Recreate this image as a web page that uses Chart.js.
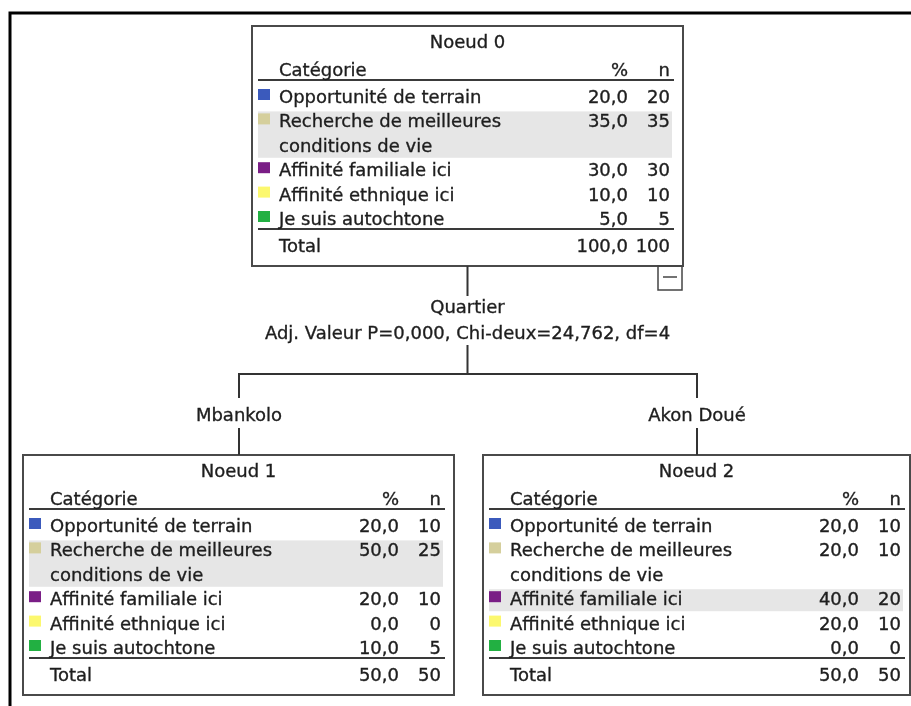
<!DOCTYPE html>
<html>
<head>
<meta charset="utf-8">
<script src="https://cdn.jsdelivr.net/npm/chart.js@4/dist/chart.umd.min.js"></script>
<style>
  html, body { margin: 0; padding: 0; background: #fff; }
  #wrap { width: 911px; height: 706px; }
</style>
</head>
<body>
<div id="wrap"><canvas id="tree"></canvas></div>
<script>
const categories = [
  ["Opportunité de terrain"],
  ["Recherche de meilleures", "conditions de vie"],
  ["Affinité familiale ici"],
  ["Affinité ethnique ici"],
  ["Je suis autochtone"]
];
const catColors = ["#3b5abc", "#d5cf9c", "#7a1e86", "#fcf86e", "#22b042"];
const nodeTitles = ["Noeud 0", "Noeud 1", "Noeud 2"];
const node0Pct = [20.0, 35.0, 30.0, 10.0, 5.0];
const node0N   = [20, 35, 30, 10, 5];
const node1Pct = [20.0, 50.0, 20.0, 0.0, 10.0];
const node1N   = [10, 25, 10, 0, 5];
const node2Pct = [20.0, 20.0, 40.0, 20.0, 0.0];
const node2N   = [10, 10, 20, 10, 0];
const splitVariable = "Quartier";
const splitStats = "Adj. Valeur P=0,000, Chi-deux=24,762, df=4";
const branchLabels = ["Mbankolo", "Akon Doué"];

// layout (in scale units)
const boxes = [
  { l: 252, t: 26,  r: 683, b: 266 },
  { l: 23,  t: 455, r: 454, b: 695 },
  { l: 483, t: 455, r: 910, b: 695 }
];
const ROW = 24.4;
const FONT = '18px "DejaVu Sans"';
const INK = "#1e1e1e";

const fmt = v => v.toFixed(1).replace(".", ",");
const rootTotal = node0N.reduce((a, b) => a + b, 0);

// text a touch heavier, like the blurred SPSS export
function text(ctx, s, x, y) {
  ctx.fillText(s, x, y);
  ctx.strokeText(s, x, y);
}

const treePlugin = {
  id: "tree",
  afterDraw(chart) {
    const ctx = chart.ctx;
    const X = v => chart.scales.x.getPixelForValue(v);
    const Y = v => chart.scales.y.getPixelForValue(v);
    ctx.save();

    // outer frame (top + left)
    ctx.strokeStyle = "#000"; ctx.lineWidth = 3;
    ctx.beginPath();
    ctx.moveTo(X(10), Y(706)); ctx.lineTo(X(10), Y(13)); ctx.lineTo(X(911), Y(13));
    ctx.stroke();

    const pcts = [node0Pct, node1Pct, node2Pct];
    const ns = [node0N, node1N, node2N];
    boxes.forEach((bx, i) => drawNode(ctx, X, Y, bx, nodeTitles[i], pcts[i], ns[i]));

    // collapse toggle under root
    ctx.strokeStyle = "#444"; ctx.lineWidth = 1.5;
    ctx.strokeRect(X(658), Y(266), X(682) - X(658), Y(290) - Y(266));
    ctx.beginPath(); ctx.moveTo(X(663), Y(277)); ctx.lineTo(X(677), Y(277)); ctx.stroke();

    // connectors
    const cx = (boxes[0].l + boxes[0].r) / 2;
    const kids = [(boxes[1].l + boxes[1].r) / 2 + 0.5, (boxes[2].l + boxes[2].r) / 2 + 0.5];
    ctx.strokeStyle = "#333"; ctx.lineWidth = 2;
    ctx.beginPath();
    ctx.moveTo(X(cx), Y(266)); ctx.lineTo(X(cx), Y(296));
    ctx.moveTo(X(cx), Y(345)); ctx.lineTo(X(cx), Y(374));
    ctx.moveTo(X(kids[0]), Y(398)); ctx.lineTo(X(kids[0]), Y(374));
    ctx.lineTo(X(kids[1]), Y(374)); ctx.lineTo(X(kids[1]), Y(398));
    ctx.moveTo(X(kids[0]), Y(428)); ctx.lineTo(X(kids[0]), Y(455));
    ctx.moveTo(X(kids[1]), Y(428)); ctx.lineTo(X(kids[1]), Y(455));
    ctx.stroke();

    ctx.fillStyle = INK; ctx.strokeStyle = INK; ctx.lineWidth = 0.35; ctx.font = FONT;
    ctx.textAlign = "center"; ctx.textBaseline = "alphabetic";
    text(ctx, splitVariable, X(cx), Y(313));
    text(ctx, splitStats, X(cx), Y(339));
    text(ctx, branchLabels[0], X(kids[0]), Y(421));
    text(ctx, branchLabels[1], X(kids[1]), Y(421));
    ctx.restore();
  }
};

function drawNode(ctx, X, Y, bx, title, pct, n) {
  const l = bx.l, t = bx.t;
  ctx.fillStyle = "#fff";
  ctx.fillRect(X(l), Y(t), X(bx.r) - X(l), Y(bx.b) - Y(t));
  ctx.strokeStyle = "#4a4a4a"; ctx.lineWidth = 2;
  ctx.strokeRect(X(l), Y(t), X(bx.r) - X(l), Y(bx.b) - Y(t));

  ctx.strokeStyle = "#3a3a3a"; ctx.lineWidth = 2;
  ctx.beginPath(); ctx.moveTo(X(l + 6), Y(t + 54)); ctx.lineTo(X(l + 422), Y(t + 54)); ctx.stroke();

  const top = pct.indexOf(Math.max(...pct));
  let y = t + 77;
  categories.forEach((lines, k) => {
    if (k === top) {
      ctx.fillStyle = "#e6e6e6";
      ctx.fillRect(X(l + 6), Y(y - 16), X(l + 420) - X(l + 6), Y(y - 18.4 + lines.length * ROW) - Y(y - 16));
    }
    ctx.fillStyle = catColors[k];
    ctx.fillRect(X(l + 6), Y(y - 14), X(l + 18) - X(l + 6), Y(y - 3) - Y(y - 14));
    y += lines.length * ROW;
  });

  ctx.strokeStyle = "#3a3a3a"; ctx.lineWidth = 2;
  ctx.beginPath(); ctx.moveTo(X(l + 6), Y(t + 203)); ctx.lineTo(X(l + 422), Y(t + 203)); ctx.stroke();

  // texts
  ctx.font = FONT; ctx.fillStyle = INK; ctx.strokeStyle = INK; ctx.lineWidth = 0.35;
  ctx.textBaseline = "alphabetic";
  ctx.textAlign = "center";
  text(ctx, title, X((l + bx.r) / 2), Y(t + 22));
  ctx.textAlign = "left";
  text(ctx, "Catégorie", X(l + 27), Y(t + 50));
  ctx.textAlign = "right";
  text(ctx, "%", X(l + 376), Y(t + 50));
  text(ctx, "n", X(l + 418), Y(t + 50));

  y = t + 77;
  categories.forEach((lines, k) => {
    ctx.textAlign = "left";
    lines.forEach((s, j) => text(ctx, s, X(l + 27), Y(y + j * ROW)));
    ctx.textAlign = "right";
    text(ctx, fmt(pct[k]), X(l + 376), Y(y));
    text(ctx, String(n[k]), X(l + 418), Y(y));
    y += lines.length * ROW;
  });

  const totN = n.reduce((a, b) => a + b, 0);
  ctx.textAlign = "left";
  text(ctx, "Total", X(l + 27), Y(t + 226));
  ctx.textAlign = "right";
  text(ctx, fmt(totN / rootTotal * 100), X(l + 376), Y(t + 226));
  text(ctx, String(totN), X(l + 418), Y(t + 226));
}

new Chart(document.getElementById("tree"), {
  type: "scatter",
  data: { datasets: [{ data: [], pointRadius: 0 }] },
  options: {
    responsive: true, maintainAspectRatio: false,
    animation: false,
    layout: { padding: 0 },
    scales: {
      x: { type: "linear", min: 0, max: 911, display: false },
      y: { type: "linear", min: 0, max: 706, reverse: true, display: false }
    },
    plugins: { legend: { display: false }, tooltip: { enabled: false } }
  },
  plugins: [treePlugin]
});
</script>
</body>
</html>
